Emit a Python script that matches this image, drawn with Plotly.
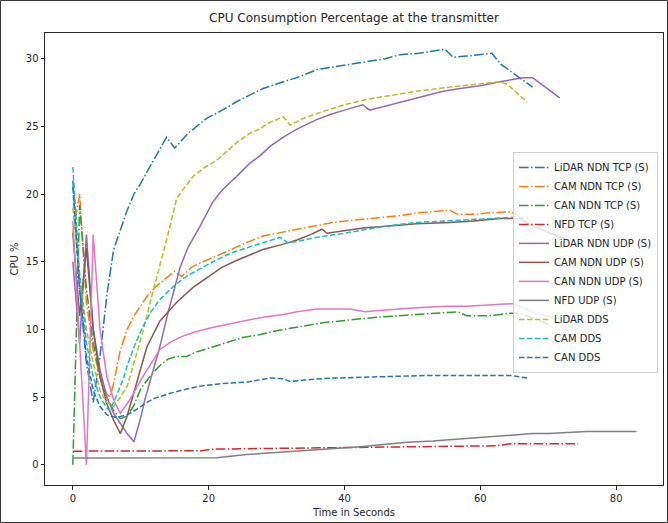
import plotly.graph_objects as go

# ---------------- data ----------------
lidar_tcp_x = [0,1,2,3,4,5,6,7,8,9,10,12,13.8,15,17,19.7,22,24,26,28,31,33,36,40,43.3,46,48.2,51,54.8,56,58,61.7,63,65,67.7]
lidar_tcp_y = [21,13,7.5,4.6,8,12.5,15.9,17.4,18.8,20,20.8,22.6,24.2,23.4,24.5,25.6,26.2,26.8,27.3,27.8,28.3,28.6,29.2,29.5,29.8,30.0,30.3,30.4,30.7,30.1,30.2,30.4,29.6,28.9,27.9]

cam_tcp_x = [0,1,2,3,4,5,5.5,6,7,8,9,10,11,12.3,13.5,15,16,17.5,19.2,21,23.6,26,28,31,34,38.3,42,45.7,48,50.6,53,55.5,56.7,59.5,61,63.4,64.5,66,67]
cam_tcp_y = [17,20,12,8.5,6.5,5.2,5,6,8.5,10,11,11.8,12.5,13.2,13.7,14.3,13.9,14.6,15.0,15.4,16,16.5,16.9,17.2,17.5,17.9,18.1,18.3,18.4,18.6,18.7,18.8,18.5,18.5,18.6,18.7,18.7,18.2,17.9]

can_tcp_x = [0,1,2,3,4,5,6,7,8,9,10,11,12,13,14,15.3,16.8,18,20.6,23,25,27.5,30,33.4,37,40.8,45,50.6,54,56.7,58,61,62.9,64.4,65.8,68,70]
can_tcp_y = [0,19.2,13,9,6.5,5,4,3.4,3.6,4.4,5.6,6.3,6.9,7.4,7.8,8.0,8.0,8.3,8.7,9.1,9.4,9.6,9.9,10.2,10.5,10.7,10.9,11.1,11.2,11.3,11.0,11.0,11.1,11.2,11.2,10.8,10.4]

nfd_tcp_x = [0,5,10,15,19,20.6,25,30,35,40.3,45,50,55,60,62.4,64.4,68,72,74.4]
nfd_tcp_y = [1.0,1.0,1.0,1.0,1.03,1.15,1.18,1.2,1.23,1.26,1.3,1.3,1.35,1.38,1.4,1.55,1.55,1.55,1.55]

lidar_udp_x = [0,1,2,3,4,5,6,7,8,9,10,10.6,12,12.8,14,15.8,17,18.7,20.6,22,24.1,26.1,27.5,29,31,33,35.9,38,40,42.7,43.7,46,48.2,51.5,54.5,57,60,62.9,65,66.3,67.7,71.7]
lidar_udp_y = [15,9,17,10,7,5,3.8,3,2.3,1.7,3.5,4.8,7.3,8.7,11.2,14.6,16.1,17.6,19.4,20.3,21.3,22.3,22.8,23.5,24.2,24.8,25.5,25.9,26.2,26.6,26.2,26.5,26.8,27.2,27.6,27.8,28.0,28.3,28.5,28.6,28.6,27.1]

cam_udp_x = [0,1,2,3,4,5,6,7,8,9.4,10.9,12.8,15.3,17.7,20.2,22,24.6,26,28,31,33,35,36.7,37.4,40,43,45.7,50.6,55.5,59,62.9,65.8,66.6,70.3,73]
cam_udp_y = [17.1,11,16,10,6.5,4.5,3.3,2.3,3.6,6.0,8.7,10.6,12,13.1,14,14.6,15.2,15.5,15.9,16.3,16.6,17.0,17.4,17.1,17.3,17.5,17.6,17.8,17.9,18.0,18.2,18.2,17.9,17.1,16.6]

can_udp_x = [0,1,2,3,4,5,6,7,8.4,10.3,12.8,14.5,16.2,18,20.2,23,26,28,31,33,35.9,40.8,43,45,50.6,55,58,62,64.8,66.3,68,70.7]
can_udp_y = [18,9,0,17,10,6.5,4.8,3.8,4.8,6.5,8.5,9.1,9.5,9.8,10.1,10.4,10.7,10.9,11.1,11.3,11.5,11.5,11.3,11.4,11.6,11.7,11.7,11.8,11.9,11.6,11.2,10.9]

nfd_udp_x = [0,5,10,15,21.2,25.6,30,35,39.3,42.3,45,49.2,53,56,59,62,65,67.7,70,75.7,80,83]
nfd_udp_y = [0.5,0.5,0.5,0.5,0.52,0.75,0.9,1.05,1.25,1.33,1.45,1.65,1.75,1.85,2.0,2.05,2.2,2.3,2.3,2.45,2.45,2.45]

lidar_dds_x = [0,1,2,3,4,5,6,7,8,9,10.3,11.5,12.8,14,15.3,17.7,19.5,21.2,24.1,26.1,27.5,29,31,32,34,36.8,40,43.3,47,50.6,55.5,59,62.9,64,66.9]
lidar_dds_y = [19,14,10,7.5,5.5,4.6,4.3,5,5.8,7.5,9.8,12.2,14.6,17,19.7,21.3,22,22.5,23.8,24.5,24.8,25.3,25.7,25.1,25.6,26.1,26.6,27.0,27.3,27.6,27.9,28.1,28.3,28.1,26.8]

cam_dds_x = [0,1,2,3,4,5,5.4,6,7.4,8,9,10.3,11.5,12.8,15.3,17,19.2,21,23.6,26,28,30.5,31.7,33,35.9,40,43.3,47,50.6,55,58,62,65.4,67]
cam_dds_y = [22,14,9,6.5,5,4.2,4.0,4.6,6.3,7.3,8.7,10.2,11.3,12.2,13.4,14.0,14.6,15.1,15.7,16.1,16.4,16.8,16.4,16.5,16.8,17.1,17.4,17.7,17.9,18.0,18.1,18.2,18.3,18.2]

can_dds_x = [0,1,2,3,4,5,5.4,6.5,8,8.8,10,10.9,12,13.8,16,18.7,22,25.6,29,31,32,35,38.3,42,45.7,49,52.6,58,64.4,66.9]
can_dds_y = [20.5,13,8,5.5,4.3,3.7,3.6,3.5,3.7,3.9,4.3,4.6,4.9,5.2,5.5,5.8,6.0,6.1,6.4,6.35,6.15,6.3,6.4,6.45,6.5,6.5,6.6,6.6,6.6,6.4]

series_names = ["LiDAR NDN TCP (S)", "CAM NDN TCP (S)", "CAN NDN TCP (S)", "NFD TCP (S)",
                "LiDAR NDN UDP (S)", "CAM NDN UDP (S)", "CAN NDN UDP (S)", "NFD UDP (S)",
                "LiDAR DDS", "CAM DDS", "CAN DDS"]
series_x = [lidar_tcp_x, cam_tcp_x, can_tcp_x, nfd_tcp_x, lidar_udp_x, cam_udp_x, can_udp_x,
            nfd_udp_x, lidar_dds_x, cam_dds_x, can_dds_x]
series_y = [lidar_tcp_y, cam_tcp_y, can_tcp_y, nfd_tcp_y, lidar_udp_y, cam_udp_y, can_udp_y,
            nfd_udp_y, lidar_dds_y, cam_dds_y, can_dds_y]

# ---------------- styles ----------------
colors = ["#1f77b4", "#ff7f0e", "#2ca02c", "#d62728", "#9467bd", "#8c564b",
          "#e377c2", "#7f7f7f", "#bcbd22", "#17becf", "#1f77b4"]
DASHDOT = "9.6px,2.4px,1.5px,2.4px"
DASHED = "5.5px,2.4px"
dashes = [DASHDOT] * 4 + ["solid"] * 4 + [DASHED] * 3

fig = go.Figure()
for name, xs, ys, c, d in zip(series_names, series_x, series_y, colors, dashes):
    fig.add_trace(go.Scatter(x=xs, y=ys, mode="lines", name=name,
                             line=dict(color=c, width=1.5, dash=d)))

W, H = 668, 523
L, R, T, B = 45, 5, 33, 38
pw, ph = W - L - R, H - T - B

axis_common = dict(showline=True, mirror=True, linecolor="#262626", linewidth=1,
                   showgrid=False, zeroline=False, ticks="outside", ticklen=3.5,
                   tickwidth=1, tickcolor="#262626", automargin=False,
                   tickfont=dict(family="DejaVu Sans", size=10, color="#262626"))

fig.update_layout(
    width=W, height=H,
    margin=dict(l=L, r=R, t=T, b=B, autoexpand=False),
    paper_bgcolor="white", plot_bgcolor="white",
    font=dict(family="DejaVu Sans", size=10, color="#262626"),
    title=dict(text="CPU Consumption Percentage at the transmitter",
               x=(L + pw / 2) / W, xanchor="center", y=1 - 18 / H, yanchor="middle",
               font=dict(family="DejaVu Sans", size=12, color="#262626")),
    xaxis=dict(range=[-4.1, 86.9], tickvals=[0, 20, 40, 60, 80],
               title=dict(text="Time in Seconds", standoff=6,
                          font=dict(family="DejaVu Sans", size=10, color="#262626")),
               **axis_common),
    yaxis=dict(range=[-1.5, 31.9], tickvals=[0, 5, 10, 15, 20, 25, 30],
               title=dict(text="CPU %", standoff=5,
                          font=dict(family="DejaVu Sans", size=10, color="#262626")),
               **axis_common),
    legend=dict(x=0.992, xanchor="right", y=0.737, yanchor="top",
                bgcolor="rgba(255,255,255,0.8)", bordercolor="#d0d0d0", borderwidth=1,
                font=dict(family="DejaVu Sans", size=10, color="#262626"),
                itemwidth=30, tracegroupgap=0),
    showlegend=True,
)

# thin frame around the whole image
fig.add_shape(type="rect", xref="paper", yref="paper",
              x0=-(L - 0.5) / pw, x1=1 + (R - 0.5) / pw,
              y0=-(B - 0.5) / ph, y1=1 + (T - 0.5) / ph,
              line=dict(color="#3a3a3a", width=1), layer="above")

fig.write_html("out.html", config={"displayModeBar": False},
               post_script="document.body.style.margin='0';document.body.style.overflow='hidden';")
